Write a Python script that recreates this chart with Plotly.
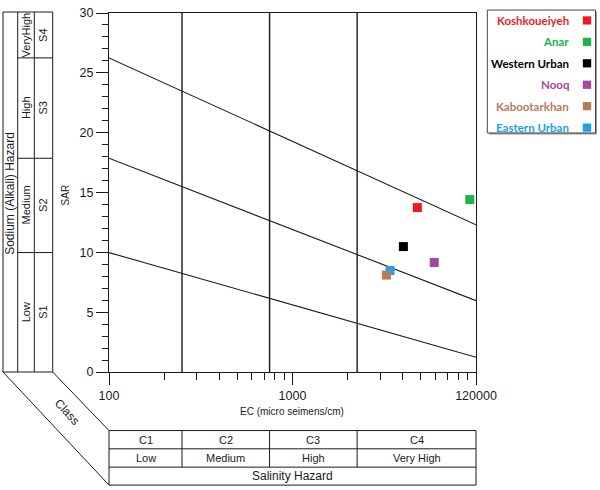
import math
import plotly.graph_objects as go

# ---------------- data ----------------
sites = ["Koshkoueiyeh", "Anar", "Western Urban", "Nooq", "Kabootarkhan", "Eastern Urban"]
colors = ["#ED1C24", "#22B14C", "#000000", "#A349A4", "#B97A57", "#1E9FE8"]
ec_values = [4790, 9250, 4020, 5920, 3250, 3400]
sar_values = [13.74, 14.41, 10.48, 9.15, 8.10, 8.48]
draw_order = [0, 1, 2, 3, 5, 4]  # Kabootarkhan drawn over Eastern Urban

line_ec = [100, 10000]
line_sar_s34 = [26.25, 12.3]
line_sar_s23 = [17.86, 5.96]
line_sar_s12 = [9.98, 1.23]

ec_class_bounds = [250, 750, 2250]
ec_range = [100, 10000]
sar_range = [0, 30]

x_tick_vals = [100, 1000, 10000]
x_tick_text = ["100", "1000", "120000"]
x_minor_vals = [200, 300, 400, 500, 600, 700, 800, 900,
                2000, 3000, 4000, 5000, 6000, 7000, 8000, 9000]
y_tick_vals = [0, 5, 10, 15, 20, 25, 30]

salinity_classes = ["C1", "C2", "C3", "C4"]
salinity_levels = ["Low", "Medium", "High", "Very High"]
sodium_classes = ["S1", "S2", "S3", "S4"]
sodium_levels = ["Low", "Medium", "High", "VeryHigh"]

# ---------------- geometry helpers (pixels -> paper) ----------------
W, H = 600, 490
PL, PT, PR, PB = 109, 6, 476, 372
PW, PH = PR - PL, PB - PT


def px(x):
    return (x - PL) / PW


def py(y):
    return (PB - y) / PH


def sar_to_py(s):
    return PB - (s - sar_range[0]) / (sar_range[1] - sar_range[0]) * PH


def ec_to_paper(v):
    lo, hi = math.log10(ec_range[0]), math.log10(ec_range[1])
    return (math.log10(v) - lo) / (hi - lo)


BLACK = "#1a1a1a"
AX_FONT = "Liberation Sans, Arial, sans-serif"

fig = go.Figure()

# class boundary verticals
for b in ec_class_bounds:
    fig.add_trace(go.Scatter(x=[b, b], y=sar_range, mode="lines",
                             line=dict(color=BLACK, width=1.4),
                             showlegend=False, hoverinfo="skip"))

# sodium hazard boundary lines
for ys in (line_sar_s34, line_sar_s23, line_sar_s12):
    fig.add_trace(go.Scatter(x=line_ec, y=ys, mode="lines",
                             line=dict(color=BLACK, width=1.1),
                             showlegend=False, hoverinfo="skip"))

# sample points
for i in draw_order:
    fig.add_trace(go.Scatter(x=[ec_values[i]], y=[sar_values[i]], mode="markers",
                             name=sites[i],
                             marker=dict(symbol="square", size=9, color=colors[i],
                                         line=dict(width=0)),
                             showlegend=False))

shapes = []
annos = []


def pline(x0, y0, x1, y1, w=1.0, color=BLACK):
    shapes.append(dict(type="line", xref="paper", yref="paper",
                       x0=px(x0), y0=py(y0), x1=px(x1), y1=py(y1),
                       line=dict(color=color, width=w)))


def ptext(x, y, text, size=11, angle=0, color=BLACK, font=AX_FONT, xanchor="center"):
    annos.append(dict(xref="paper", yref="paper", x=px(x), y=py(y), text=text,
                      showarrow=False, textangle=angle, xanchor=xanchor, yanchor="middle",
                      font=dict(family=font, size=size, color=color)))


# ---------------- left sodium hazard panel ----------------
LX = [3, 17.7, 34.3, 52.7]
LTOP, LBOT = 5, PB
for xv in LX:
    pline(xv, LTOP, xv, LBOT)
pline(LX[0], LTOP, LX[-1], LTOP)
pline(LX[0], LBOT, LX[-1], LBOT)
s_bounds = [sar_range[0], line_sar_s12[0], line_sar_s23[0], line_sar_s34[0], sar_range[1]]
for s in s_bounds[1:-1]:
    pline(LX[1], sar_to_py(s), LX[-1], sar_to_py(s))
for k in range(4):
    yc = (sar_to_py(s_bounds[k]) + sar_to_py(s_bounds[k + 1])) / 2
    ptext((LX[1] + LX[2]) / 2, yc, sodium_levels[k], size=11, angle=-90)
    ptext((LX[2] + LX[3]) / 2, yc, sodium_classes[k], size=11, angle=-90)
ptext((LX[0] + LX[1]) / 2, 190, "Sodium (Alkali) Hazard", size=12, angle=-90)

# diagonals
BTOP, BR1, BR2, BBOT = 431.7, 450.3, 469, 487.3
pline(LX[0], LBOT, PL, BBOT)
pline(LX[-1], LBOT, PL, BTOP)
ptext(67, 413, "Class", size=12, angle=47)

# ---------------- bottom salinity hazard panel ----------------
BL, BRX = PL, PR
pline(BL, BTOP, BRX, BTOP)
pline(BL, BR1, BRX, BR1)
pline(BL, BR2, BRX, BR2)
pline(BL, BBOT, BRX, BBOT)
pline(BL, BTOP, BL, BBOT)
pline(BRX, BTOP, BRX, BBOT)
col_edges = [0.0] + [ec_to_paper(b) for b in ec_class_bounds] + [1.0]
for e in col_edges[1:-1]:
    xpix = PL + e * PW
    pline(xpix, BTOP, xpix, BR2)
for k in range(4):
    xc = PL + (col_edges[k] + col_edges[k + 1]) / 2 * PW
    ptext(xc, (BTOP + BR1) / 2, salinity_classes[k], size=11)
    ptext(xc, (BR1 + BR2) / 2 + 0.5, salinity_levels[k], size=11)
ptext((BL + BRX) / 2, (BR2 + BBOT) / 2, "Salinity Hazard", size=12)

# axis titles
ptext(65, 192, "SAR", size=10, angle=-90)
ptext(292, 412, "EC (micro seimens/cm)", size=10)

# ---------------- legend ----------------
GX0, GY0, GX1, GY1 = 487.3, 3, 595.5, 128.3
shapes.append(dict(type="rect", xref="paper", yref="paper",
                   x0=px(GX0 + 1.5), y0=py(GY1 + 1.5), x1=px(GX1 + 1.5), y1=py(GY0 + 1.5),
                   fillcolor="#9a9a9a", line=dict(width=0)))
shapes.append(dict(type="rect", xref="paper", yref="paper",
                   x0=px(GX0), y0=py(GY1), x1=px(GX1), y1=py(GY0),
                   fillcolor="white", line=dict(color="#444444", width=1)))
for i, name in enumerate(sites):
    yc = 13.6 + 21.85 * i
    ptext(571, yc, "<b>" + name + "</b>", size=11.5, color=colors[i],
          font="Lato, Open Sans, sans-serif", xanchor="right")
    shapes.append(dict(type="rect", xref="paper", yref="paper",
                       x0=px(582.8), y0=py(yc + 4.2), x1=px(591.2), y1=py(yc - 4.2),
                       fillcolor=colors[i], line=dict(width=0)))

fig.update_layout(
    width=W, height=H,
    margin=dict(l=PL, r=W - PR, t=PT, b=H - PB, pad=0),
    paper_bgcolor="white", plot_bgcolor="white",
    showlegend=False,
    shapes=shapes, annotations=annos,
    xaxis=dict(type="log", range=[math.log10(ec_range[0]), math.log10(ec_range[1])],
               showline=True, linecolor=BLACK, linewidth=1.3, mirror=True,
               showgrid=False, zeroline=False, ticklabeloverflow="allow",
               tickmode="array", tickvals=x_tick_vals, ticktext=x_tick_text,
               ticks="outside", ticklen=12, tickwidth=1.1, tickcolor=BLACK,
               tickfont=dict(family=AX_FONT, size=12.5, color=BLACK),
               minor=dict(tickmode="array", tickvals=x_minor_vals, ticks="outside",
                          ticklen=7, tickwidth=1.1, tickcolor=BLACK, showgrid=False)),
    yaxis=dict(range=sar_range, showline=True, linecolor=BLACK, linewidth=1.3, mirror=True,
               showgrid=False, zeroline=False, ticklabeloverflow="allow",
               tickmode="array", tickvals=y_tick_vals,
               ticks="outside", ticklen=12, tickwidth=1.1, tickcolor=BLACK,
               tickfont=dict(family=AX_FONT, size=12.5, color=BLACK),
               minor=dict(dtick=1, ticks="outside", ticklen=6, tickwidth=1.1,
                          tickcolor=BLACK, showgrid=False)),
)

fig.write_html("out.html",
               config={"displayModeBar": False},
               post_script="document.body.style.margin='0';document.body.style.padding='0';")
